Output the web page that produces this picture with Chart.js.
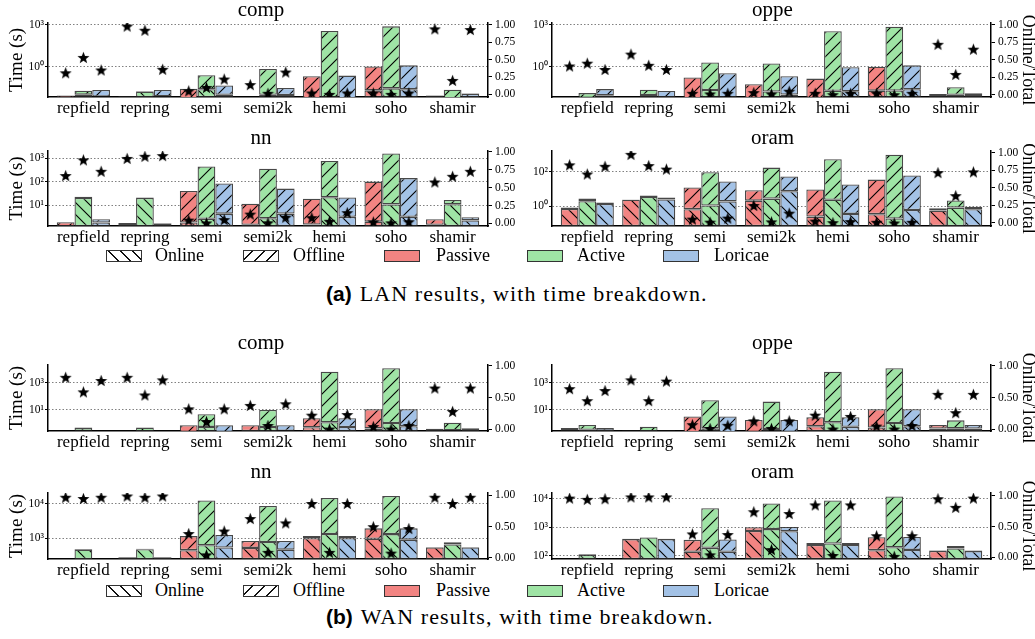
<!DOCTYPE html>
<html>
<head>
<meta charset="utf-8">
<script src="https://cdn.jsdelivr.net/npm/chart.js@4.4.1/dist/chart.umd.min.js"></script>
<style>
  body { margin: 0; background: #fff; width: 1035px; height: 639px; position: relative; overflow: hidden; font-family: "Liberation Serif", serif; }
  canvas { position: absolute; }
  .sw { position: absolute; width: 36px; height: 12px; border: 1px solid #333; box-sizing: border-box; }
  .lt { position: absolute; font-size: 18px; line-height: 18px; color: #000; white-space: nowrap; }
  .cap { position: absolute; left: 326px; font-family: "Liberation Serif", serif; font-size: 22px; line-height: 22px; letter-spacing: 1.1px; white-space: nowrap; color: #000; }
  .cap b { font-family: "Liberation Sans", sans-serif; font-size: 21px; letter-spacing: 0; margin-right: 8px; }
</style>
</head>
<body>

<script>
// categories / series
var categories = ["repfield", "repring", "semi", "semi2k", "hemi", "soho", "shamir"];
var protocols = ["Passive", "Active", "Loricae"];
var protocolColors = ["#f28482", "#9fe4a5", "#a3c2e6"];
var legendNames = ["Online", "Offline", "Passive", "Active", "Loricae"];

// total time (s) of each bar, and online/total (the stars)
// LAN - comp
var compLanPassive = [0.0096, 0.0087, 0.028, 0.005, 0.22, 1.1, 0.010];
var compLanActive = [0.0205, 0.0195, 0.26, 0.72, 357, 760, 0.024];
var compLanLoricae = [0.023, 0.023, 0.049, 0.032, 0.245, 1.3, 0.0135];
var compLanPassiveRatio = [0.31, 0.98, 0.05, 0.14, 0.02, 0.02, 0.94];
var compLanActiveRatio = [0.53, 0.92, 0.10, 0.015, 0.00002, 0.00004, 0.20];
var compLanLoricaeRatio = [0.35, 0.36, 0.22, 0.32, 0.02, 0.02, 0.93];

// LAN - oppe
var oppeLanPassive = [0.005, 0.005, 0.18, 0.06, 0.15, 1.05, 0.012];
var oppeLanActive = [0.014, 0.024, 2.1, 1.8, 340, 720, 0.037];
var oppeLanLoricae = [0.027, 0.020, 0.36, 0.22, 0.95, 1.3, 0.0135];
var oppeLanPassiveRatio = [0.41, 0.58, 0.02, 0.03, 0.02, 0.02, 0.72];
var oppeLanActiveRatio = [0.45, 0.42, 0.011, 0.01, 0.00006, 0.00003, 0.29];
var oppeLanLoricaeRatio = [0.36, 0.36, 0.02, 0.05, 0.02, 0.02, 0.65];

// LAN - nn
var nnLanPassive = [1.95, 1.8, 41, 11.8, 19.3, 103, 2.6];
var nnLanActive = [23.5, 22, 455, 360, 770, 1590, 17];
var nnLanLoricae = [2.6, 1.8, 85, 52, 22, 145, 3.2];
var nnLanPassiveRatio = [0.67, 0.91, 0.046, 0.13, 0.08, 0.02, 0.58];
var nnLanActiveRatio = [0.89, 0.94, 0.006, 0.008, 0.029, 0.007, 0.66];
var nnLanLoricaeRatio = [0.73, 0.95, 0.053, 0.087, 0.15, 0.023, 0.73];

// LAN - oram
var oramLanPassive = [0.87, 2.5, 12.5, 8.7, 9.6, 36, 0.8];
var oramLanActive = [2.9, 4.3, 95, 178, 540, 1000, 2.2];
var oramLanLoricae = [1.7, 3.3, 28, 54, 18.6, 62, 0.95];
var oramLanPassiveRatio = [0.83, 0.98, 0.056, 0.25, 0.027, 0.01, 0.72];
var oramLanActiveRatio = [0.70, 0.82, 0.012, 0.016, 0.0045, 0.0002, 0.39];
var oramLanLoricaeRatio = [0.81, 0.77, 0.07, 0.14, 0.02, 0.01, 0.73];

// WAN - comp
var compWanPassive = [0.1, 0.1, 0.76, 0.76, 2.45, 11.2, 0.43];
var compWanActive = [0.51, 0.51, 4.8, 10, 6300, 11200, 1.17];
var compWanLoricae = [0.1, 0.1, 0.76, 0.76, 2.45, 11.2, 0.45];
var compWanPassiveRatio = [0.82, 0.82, 0.32, 0.375, 0.22, 0.04, 0.65];
var compWanActiveRatio = [0.59, 0.54, 0.12, 0.057, 0.0002, 0.0001, 0.28];
var compWanLoricaeRatio = [0.77, 0.78, 0.32, 0.40, 0.23, 0.057, 0.65];

// WAN - oppe
var oppeWanPassive = [0.48, 0.32, 3.3, 1.85, 2.9, 11.2, 0.8];
var oppeWanActive = [0.8, 0.6, 51, 41, 6300, 11200, 1.74];
var oppeWanLoricae = [0.48, 0.32, 3.3, 1.85, 2.9, 11.2, 0.8];
var oppeWanPassiveRatio = [0.64, 0.78, 0.07, 0.13, 0.22, 0.047, 0.55];
var oppeWanActiveRatio = [0.45, 0.45, 0.009, 0.01, 0.0002, 0.0001, 0.26];
var oppeWanLoricaeRatio = [0.61, 0.76, 0.06, 0.13, 0.2, 0.057, 0.55];

// WAN - nn
var nnWanPassive = [250, 280, 1140, 820, 1140, 1910, 550];
var nnWanActive = [480, 490, 12300, 8550, 14600, 16700, 750];
var nnWanLoricae = [250, 280, 1230, 820, 1140, 1910, 550];
var nnWanPassiveRatio = [0.97, 0.99, 0.39, 0.63, 0.87, 0.50, 0.97];
var nnWanActiveRatio = [0.95, 0.97, 0.05, 0.09, 0.09, 0.078, 0.87];
var nnWanLoricaeRatio = [0.97, 0.99, 0.43, 0.56, 0.87, 0.47, 0.97];

// WAN - oram
var oramWanPassive = [70, 390, 360, 1000, 280, 445, 155];
var oramWanActive = [112, 445, 4700, 6900, 8900, 12300, 220];
var oramWanLoricae = [70, 390, 370, 1020, 280, 455, 150];
var oramWanPassiveRatio = [0.96, 0.98, 0.38, 0.74, 0.85, 0.35, 0.95];
var oramWanActiveRatio = [0.94, 0.98, 0.04, 0.125, 0.03, 0.016, 0.81];
var oramWanLoricaeRatio = [0.95, 0.98, 0.37, 0.71, 0.85, 0.35, 0.96];

// tick labels of the ratio axis
var ratioTicks = [0, 0.25, 0.5, 0.75, 1];

var panels = [
  { title: "comp", col: 0, row: 0, totals: [compLanPassive, compLanActive, compLanLoricae],
    ratios: [compLanPassiveRatio, compLanActiveRatio, compLanLoricaeRatio],
    exp: [-2.13, 3.12], logTicks: [0, 3], r: [-0.038, 1.024] },
  { title: "oppe", col: 1, row: 0, totals: [oppeLanPassive, oppeLanActive, oppeLanLoricae],
    ratios: [oppeLanPassiveRatio, oppeLanActiveRatio, oppeLanLoricaeRatio],
    exp: [-2.13, 3.12], logTicks: [0, 3], r: [-0.033, 1.024] },
  { title: "nn", col: 0, row: 1, totals: [nnLanPassive, nnLanActive, nnLanLoricae],
    ratios: [nnLanPassiveRatio, nnLanActiveRatio, nnLanLoricaeRatio],
    exp: [0.13, 3.31], logTicks: [1, 2, 3], r: [-0.037, 1.014] },
  { title: "oram", col: 1, row: 1, totals: [oramLanPassive, oramLanActive, oramLanLoricae],
    ratios: [oramLanPassiveRatio, oramLanActiveRatio, oramLanLoricaeRatio],
    exp: [-1.13, 3.21], logTicks: [0, 2], r: [-0.043, 1.028] },
  { title: "comp", col: 0, row: 2, totals: [compWanPassive, compWanActive, compWanLoricae],
    ratios: [compWanPassiveRatio, compWanActiveRatio, compWanLoricaeRatio],
    exp: [-0.54, 4.29], logTicks: [1, 3], r: [-0.031, 1.015] },
  { title: "oppe", col: 1, row: 2, totals: [oppeWanPassive, oppeWanActive, oppeWanLoricae],
    ratios: [oppeWanPassiveRatio, oppeWanActiveRatio, oppeWanLoricaeRatio],
    exp: [-0.54, 4.29], logTicks: [1, 3], r: [-0.031, 1.015] },
  { title: "nn", col: 0, row: 3, totals: [nnWanPassive, nnWanActive, nnWanLoricae],
    ratios: [nnWanPassiveRatio, nnWanActiveRatio, nnWanLoricaeRatio],
    exp: [2.39, 4.31], logTicks: [3, 4], r: [-0.016, 1.037] },
  { title: "oram", col: 1, row: 3, totals: [oramWanPassive, oramWanActive, oramWanLoricae],
    ratios: [oramWanPassiveRatio, oramWanActiveRatio, oramWanLoricaeRatio],
    exp: [1.88, 4.21], logTicks: [2, 3, 4], r: [-0.027, 1.043] }
];

// page geometry
var cols = [
  { left: 0, width: 522, leftW: 48, rightW: 34 },
  { left: 510, width: 525, leftW: 42, rightW: 44 }
];
var rows = [
  { top: 0, height: 117, padTop: 0, padBottom: 2 },
  { top: 127, height: 119, padTop: 1, padBottom: 2 },
  { top: 332, height: 119, padTop: 1, padBottom: 11 },
  { top: 461, height: 118, padTop: 1, padBottom: 10 }
];

var FONT = "Liberation Serif";
var supDigits = { "0": "\u2070", "1": "\u00b9", "2": "\u00b2", "3": "\u00b3", "4": "\u2074" };
var edgeColor = "rgba(40,40,40,0.85)";
var groupWidth = 0.865;
var barW = groupWidth / 3;

Chart.defaults.font.family = FONT;
Chart.defaults.color = "#000";

// star marker
function makeStar(size) {
  var c = document.createElement("canvas");
  c.width = size;
  c.height = size;
  var g = c.getContext("2d");
  var cx = size / 2, cy = size / 2 + 0.6;
  var R = size / 2 - 0.2, r = R * 0.42;
  g.beginPath();
  for (var k = 0; k < 10; k++) {
    var a = -Math.PI / 2 + k * Math.PI / 5;
    var rad = (k % 2) ? r : R;
    g.lineTo(cx + rad * Math.cos(a), cy + rad * Math.sin(a));
  }
  g.closePath();
  g.fillStyle = "#000";
  g.fill();
  return c;
}
var starImg = makeStar(13);

// hatch fill: "back" = \\ (online), "fwd" = // (offline)
function makeHatch(ctx, color, dir) {
  var s = 12;
  var c = document.createElement("canvas");
  c.width = s;
  c.height = s;
  var g = c.getContext("2d");
  g.fillStyle = color;
  g.fillRect(0, 0, s, s);
  g.strokeStyle = "#000";
  g.lineWidth = 1.1;
  g.beginPath();
  if (dir == "back") {
    g.moveTo(-2, -2); g.lineTo(s + 2, s + 2);
    g.moveTo(-2, s - 2); g.lineTo(2, s + 2);
    g.moveTo(s - 2, -2); g.lineTo(s + 2, 2);
  } else {
    g.moveTo(-2, s + 2); g.lineTo(s + 2, -2);
    g.moveTo(-2, 2); g.lineTo(2, -2);
    g.moveTo(s - 2, s + 2); g.lineTo(s + 2, s - 2);
  }
  g.stroke();
  return ctx.createPattern(c, "repeat");
}

function drawPanel(p) {
  var col = cols[p.col], row = rows[p.row];
  var canvas = document.createElement("canvas");
  canvas.width = col.width;
  canvas.height = row.height;
  canvas.style.left = col.left + "px";
  canvas.style.top = row.top + "px";
  canvas.style.width = col.width + "px";
  canvas.style.height = row.height + "px";
  document.body.appendChild(canvas);
  var ctx = canvas.getContext("2d");

  var datasets = [];
  var offs = [-barW, 0, barW];

  // stars first so they are drawn on top
  protocols.forEach(function(name, k) {
    datasets.push({
      type: "scatter",
      label: name + " online/total",
      data: p.ratios[k].map(function(v, i) { return { x: i + offs[k], y: v }; }),
      xAxisID: "x",
      yAxisID: "y2",
      pointStyle: starImg,
      pointRadius: 6,
      showLine: false,
      order: -1
    });
  });

  protocols.forEach(function(name, k) {
    var tot = p.totals[k], rat = p.ratios[k];
    datasets.push({
      type: "bar",
      label: name + " online",
      stack: name,
      data: tot.map(function(t, i) { return { x: i, y: t * rat[i] }; }),
      backgroundColor: makeHatch(ctx, protocolColors[k], "back"),
      borderColor: edgeColor,
      borderWidth: 1.3,
      borderSkipped: false,
      xAxisID: "x",
      yAxisID: "y"
    });
    datasets.push({
      type: "bar",
      label: name + " offline",
      stack: name,
      data: tot.map(function(t, i) { return { x: i, y: t * (1 - rat[i]) }; }),
      backgroundColor: makeHatch(ctx, protocolColors[k], "fwd"),
      borderColor: edgeColor,
      borderWidth: 1.3,
      borderSkipped: false,
      xAxisID: "x",
      yAxisID: "y"
    });
  });

  new Chart(ctx, {
    type: "bar",
    data: { datasets: datasets },
    options: {
      responsive: false,
      animation: false,
      devicePixelRatio: 1,
      categoryPercentage: groupWidth,
      barPercentage: 1,
      layout: { padding: 0 },
      plugins: {
        legend: { display: false },
        tooltip: { enabled: false },
        title: {
          display: true,
          text: p.title,
          color: "#000",
          font: { family: FONT, size: 21, weight: "normal", lineHeight: 1 },
          padding: { top: row.padTop, bottom: row.padBottom }
        }
      },
      scales: {
        x: {
          type: "linear",
          offset: false,
          min: -0.575,
          max: 6.575,
          grid: { display: false, drawTicks: false },
          border: { display: true, color: "#000", width: 1.5 },
          ticks: {
            autoSkip: false,
            maxRotation: 0,
            padding: 1,
            color: "#000",
            font: { family: FONT, size: 17 },
            callback: function(v) { return categories[v]; }
          },
          afterBuildTicks: function(s) {
            s.ticks = categories.map(function(c, i) { return { value: i }; });
          },
          afterFit: function(s) { s.height = 20; }
        },
        y: {
          type: "logarithmic",
          position: "left",
          stacked: true,
          min: Math.pow(10, p.exp[0]),
          max: Math.pow(10, p.exp[1]),
          grid: { color: "#808080", lineWidth: 1, tickColor: "#000", tickLength: 3, tickWidth: 1 },
          border: { display: true, color: "#000", width: 1.5, dash: [1.5, 2] },
          ticks: {
            padding: 1,
            color: "#000",
            font: { family: FONT, size: 11.5 },
            callback: function(v) {
              var e = String(Math.round(Math.log10(v)));
              return "10" + supDigits[e];
            }
          },
          afterBuildTicks: function(s) {
            s.ticks = p.logTicks.map(function(e) { return { value: Math.pow(10, e) }; });
          },
          title: {
            display: p.col == 0,
            text: "Time (s)",
            color: "#000",
            font: { family: FONT, size: 19, lineHeight: 1.2 },
            padding: { top: 6, bottom: 0 }
          },
          afterFit: function(s) { s.width = col.leftW; }
        },
        y2: {
          type: "linear",
          position: "right",
          min: p.r[0],
          max: p.r[1],
          grid: { drawOnChartArea: false, drawTicks: true, tickLength: 4, tickColor: "#000", tickWidth: 1 },
          border: { display: true, color: "#000", width: 1.5 },
          ticks: {
            padding: 3,
            color: "#000",
            font: { family: FONT, size: 11.5 },
            callback: function(v) { return v.toFixed(2); }
          },
          afterBuildTicks: function(s) {
            s.ticks = ratioTicks.map(function(v) { return { value: v }; });
          },
          title: {
            display: p.col == 1,
            text: "Online/Total",
            color: "#000",
            font: { family: FONT, size: 18, lineHeight: 0.8 },
            padding: { top: 0, bottom: 0 }
          },
          afterFit: function(s) { s.width = col.rightW; }
        }
      }
    }
  });
}

panels.forEach(drawPanel);

// legends (one under each half) and captions
var legendBoxX = [105.5, 243, 383.5, 526.5, 663];
var legendTextX = [155, 293, 436, 577, 714];

function buildLegend(yCenter) {
  legendNames.forEach(function(name, i) {
    var sw = document.createElement("div");
    sw.className = "sw";
    sw.style.left = legendBoxX[i] + "px";
    sw.style.top = (yCenter - 6) + "px";
    if (i == 0) {
      sw.style.background = "repeating-linear-gradient(45deg, #fff 0 7.5px, #111 7.5px 8.6px)";
    } else if (i == 1) {
      sw.style.background = "repeating-linear-gradient(-45deg, #fff 0 7.5px, #111 7.5px 8.6px)";
    } else {
      sw.style.background = protocolColors[i - 2];
    }
    document.body.appendChild(sw);
    var t = document.createElement("div");
    t.className = "lt";
    t.textContent = name;
    t.style.left = legendTextX[i] + "px";
    t.style.top = (yCenter - 9.6) + "px";
    document.body.appendChild(t);
  });
}
buildLegend(256);
buildLegend(591);

function buildCaption(letter, text, yCenter) {
  var d = document.createElement("div");
  d.className = "cap";
  d.style.top = (yCenter - 12.4) + "px";
  var b = document.createElement("b");
  b.textContent = "(" + letter + ")";
  d.appendChild(b);
  d.appendChild(document.createTextNode(text));
  document.body.appendChild(d);
}
buildCaption("a", "LAN results, with time breakdown.", 295);
buildCaption("b", "WAN results, with time breakdown.", 618);
</script>
</body>
</html>
